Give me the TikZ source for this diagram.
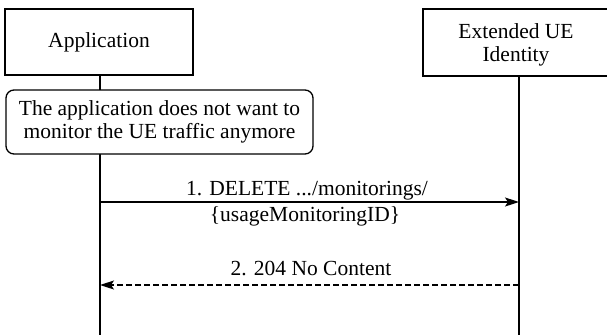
\documentclass[tikz,border=0pt]{standalone}
\usepackage{fontspec}
\setmainfont{Liberation Serif}
\usetikzlibrary{arrows.meta}
\tikzset{
  txt/.style={font=\fontsize{21.5}{23.5}\selectfont},
  ent/.style={txt,draw,line width=1.3pt,inner sep=0pt,align=center},
  life/.style={line width=1.3pt},
  msg/.style={line width=1.3pt,-{Stealth[length=14pt,width=9pt,inset=3pt]}},
  lbl/.style={txt,inner sep=0pt,align=center}}
\begin{document}
\begin{tikzpicture}[x=1pt,y=-1pt]
\useasboundingbox (0,0) rectangle (607,335);
\node[ent,minimum width=188pt,minimum height=66pt] (app) at (99,42) {Application};
\node[ent,minimum width=186pt,minimum height=67pt,text depth=0pt] (ext) at (516,42.5) {Extended UE\\Identity};
\coordinate (appb) at (100,335);
\coordinate (extb) at (519,335);
\draw[life] (100,75) -- (appb);
\draw[life] (519,76) -- (extb);
\node[ent,rounded corners=8pt,fill=white,minimum width=307pt,minimum height=64pt] (note) at (159.5,122) {The application does not want to\\monitor the UE traffic anymore};
\coordinate (m1a) at (100,202);
\coordinate (m1b) at (519,202);
\draw[msg] (m1a) -- (m1b);
\node[lbl] (l1a) at (307,191) {1. DELETE .../monitorings/};
\node[lbl] (l1b) at (305,216) {\{usageMonitoringID\}};
\coordinate (m2a) at (519,285);
\coordinate (m2b) at (100,285);
\draw[msg,dash pattern=on 6pt off 3pt] (m2a) -- (m2b);
\node[lbl] (l2) at (311,268) {2. 204 No Content};
\end{tikzpicture}
\end{document}
